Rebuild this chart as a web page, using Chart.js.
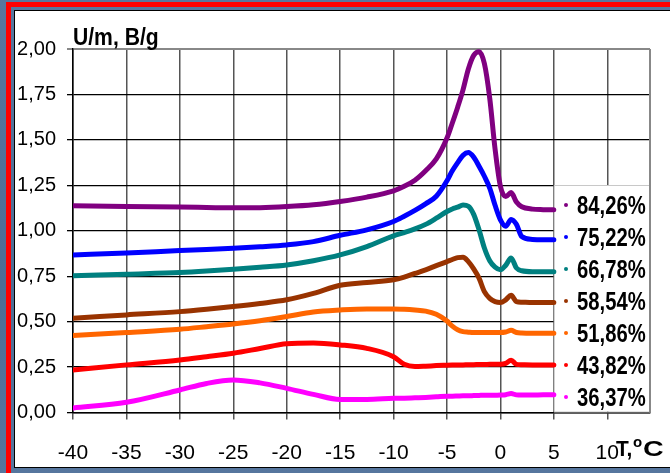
<!DOCTYPE html>
<html>
<head>
<meta charset="utf-8">
<script src="https://cdn.jsdelivr.net/npm/chart.js@4.4.0/dist/chart.umd.min.js"></script>
<style>
  html, body { margin: 0; padding: 0; }
  body {
    width: 670px; height: 473px; overflow: hidden; position: relative;
    background: linear-gradient(180deg, #57779f 0%, #4d6d95 60%, #56769e 100%);
  }
  #redLeft { position: absolute; left: 6px; top: 2px; width: 5px; height: 471px; background: #ff0000; }
  #redTop  { position: absolute; left: 6px; top: 2px; width: 664px; height: 5px; background: #ff0000; }
  #panel {
    position: absolute; left: 14px; top: 10px; width: 680px; height: 458px;
    background: #ffffff; border: 1px solid #000; box-sizing: border-box;
  }
  #c { position: absolute; left: 0; top: 0; }
</style>
</head>
<body>
<div id="redLeft"></div>
<div id="redTop"></div>
<div id="panel"></div>
<canvas id="c" width="670" height="473"></canvas>
<script>
// Temperature grid, °C
const temps = [-40, -35, -30, -27.5, -25, -22.5, -20, -17.5, -15, -12.5, -10, -9, -8, -7, -6, -5,
               -4.5, -4, -3.5, -3, -2.5, -2, -1.5, -1, -0.5, 0, 0.5, 1, 1.5, 2, 3, 4, 5];

// Specific conductance U/m, B/g at each temperature, one array per humidity
const rh8426 = [1.137, 1.133, 1.130, 1.128, 1.126, 1.127, 1.133, 1.143, 1.161, 1.185, 1.220, 1.245, 1.278, 1.330, 1.395, 1.510,
                1.593, 1.680, 1.775, 1.890, 1.965, 1.985, 1.920, 1.730, 1.450, 1.245, 1.188, 1.210, 1.158, 1.132, 1.119, 1.116, 1.115];
const rh7522 = [0.867, 0.877, 0.891, 0.897, 0.904, 0.912, 0.922, 0.940, 0.975, 1.005, 1.051, 1.080, 1.112, 1.148, 1.190, 1.275,
                1.330, 1.375, 1.415, 1.430, 1.405, 1.355, 1.300, 1.235, 1.140, 1.060, 1.025, 1.062, 1.035, 0.968, 0.952, 0.950, 0.950];
const rh6678 = [0.752, 0.761, 0.770, 0.778, 0.788, 0.799, 0.812, 0.835, 0.867, 0.913, 0.972, 0.990, 1.010, 1.035, 1.069, 1.106,
                1.120, 1.130, 1.142, 1.135, 1.090, 1.005, 0.905, 0.835, 0.800, 0.785, 0.810, 0.850, 0.795, 0.780, 0.775, 0.775, 0.775];
const rh5854 = [0.519, 0.537, 0.555, 0.568, 0.583, 0.600, 0.620, 0.655, 0.700, 0.715, 0.730, 0.745, 0.765, 0.785, 0.808, 0.830,
                0.842, 0.852, 0.854, 0.830, 0.790, 0.739, 0.665, 0.628, 0.610, 0.605, 0.620, 0.645, 0.610, 0.607, 0.605, 0.605, 0.605];
const rh5186 = [0.423, 0.440, 0.458, 0.472, 0.487, 0.505, 0.528, 0.553, 0.564, 0.570, 0.570, 0.568, 0.564, 0.558, 0.540, 0.503,
                0.475, 0.455, 0.445, 0.442, 0.440, 0.440, 0.440, 0.440, 0.440, 0.440, 0.443, 0.452, 0.440, 0.437, 0.436, 0.436, 0.436];
const rh4382 = [0.234, 0.262, 0.289, 0.307, 0.326, 0.352, 0.378, 0.382, 0.372, 0.353, 0.307, 0.265, 0.253, 0.255, 0.258, 0.260,
                0.261, 0.262, 0.262, 0.263, 0.263, 0.264, 0.264, 0.265, 0.265, 0.265, 0.270, 0.288, 0.265, 0.263, 0.262, 0.262, 0.262];
const rh3637 = [0.025, 0.056, 0.124, 0.160, 0.179, 0.163, 0.133, 0.100, 0.072, 0.072, 0.078, 0.079, 0.081, 0.083, 0.086, 0.090,
                0.090, 0.091, 0.092, 0.092, 0.093, 0.094, 0.095, 0.095, 0.095, 0.096, 0.098, 0.104, 0.097, 0.096, 0.096, 0.097, 0.097];

const seriesValues = [rh8426, rh7522, rh6678, rh5854, rh5186, rh4382, rh3637];
const seriesLabels = ['84,26%', '75,22%', '66,78%', '58,54%', '51,86%', '43,82%', '36,37%'];
const seriesColors = ['#800080', '#0000ff', '#008080', '#993300', '#ff6600', '#ff0000', '#ff00ff'];

const xTickValues = [-40, -35, -30, -25, -20, -15, -10, -5, 0, 5, 10];
const yTickValues = [0, 0.25, 0.5, 0.75, 1, 1.25, 1.5, 1.75, 2];

const yTitle = 'U/m, B/g';
const FONT = '"Liberation Sans", Arial, Helvetica, sans-serif';

// Draws text squeezed or widened horizontally
function drawNarrow(ctx, text, x, y, font, sx) {
  ctx.save();
  ctx.font = font;
  ctx.textBaseline = 'alphabetic';
  ctx.textAlign = 'left';
  ctx.translate(x, y);
  ctx.scale(sx, 1);
  ctx.fillText(text, 0, 0);
  ctx.restore();
}

const decor = {
  id: 'decor',
  beforeDatasetsDraw(chart) {
    const ctx = chart.ctx;
    const xs = chart.scales.x, ys = chart.scales.y;
    // legend box over the right part of the plot
    const left = xs.getPixelForValue(5);
    const right = chart.chartArea.right;
    const top = 185, bottom = ys.getPixelForValue(0) - 1;
    ctx.save();
    ctx.fillStyle = '#ffffff';
    ctx.fillRect(left, top, right - left, bottom - top);
    ctx.strokeStyle = '#c8c8c8';
    ctx.lineWidth = 1;
    ctx.strokeRect(left + 0.5, top + 0.5, right - left - 1, bottom - top);
    ctx.restore();
  },
  afterDraw(chart) {
    const ctx = chart.ctx;
    const a = chart.chartArea;
    ctx.save();
    // plot frame, right side
    ctx.strokeStyle = '#888888';
    ctx.lineWidth = 2;
    ctx.beginPath();
    ctx.moveTo(a.right, a.top);
    ctx.lineTo(a.right, a.bottom);
    ctx.stroke();

    // legend entries
    chart.data.datasets.forEach((ds, i) => {
      const cy = 205 + 32 * i;
      ctx.fillStyle = ds.borderColor;
      ctx.beginPath();
      ctx.arc(566, cy, 2, 0, Math.PI * 2);
      ctx.fill();
      ctx.fillStyle = '#000';
      drawNarrow(ctx, ds.label, 577, cy + 9, 'bold 25px ' + FONT, 0.81);
    });

    // axis titles
    ctx.fillStyle = '#000';
    drawNarrow(ctx, yTitle, 73, 45, 'bold 24px ' + FONT, 0.88);
    drawNarrow(ctx, 'T,', 616, 456, 'bold 22px ' + FONT, 0.95);
    drawNarrow(ctx, 'o', 633, 447, 'bold 15px ' + FONT, 1);
    drawNarrow(ctx, 'C', 643, 456, 'bold 22px ' + FONT, 1.3);
    ctx.restore();
  }
};

new Chart(document.getElementById('c'), {
  type: 'line',
  data: {
    datasets: seriesValues.map((vals, i) => ({
      label: seriesLabels[i],
      data: temps.map((t, j) => ({ x: t, y: vals[j] })),
      borderColor: seriesColors[i],
      backgroundColor: seriesColors[i],
      borderWidth: 5,
      borderCapStyle: 'round',
      borderJoinStyle: 'round',
      pointRadius: 0,
      cubicInterpolationMode: 'monotone',
      fill: false
    }))
  },
  options: {
    responsive: false,
    animation: false,
    devicePixelRatio: 1,
    layout: { padding: { top: 49, right: 20, left: 0, bottom: 0 } },
    plugins: { legend: { display: false }, tooltip: { enabled: false } },
    scales: {
      x: {
        type: 'linear',
        min: -40,
        max: 14,
        afterBuildTicks: s => { s.ticks = xTickValues.map(v => ({ value: v })); },
        afterFit: s => { s.height = 60.5; },
        grid: { color: '#555555', lineWidth: 1.5, tickLength: 7 },
        border: { color: '#000000', width: 1.5 },
        ticks: {
          color: '#000', padding: 21, maxRotation: 0, autoSkip: false,
          font: { family: FONT, size: 21 },
          callback: v => String(v)
        }
      },
      y: {
        min: 0,
        max: 2,
        afterBuildTicks: s => { s.ticks = yTickValues.map(v => ({ value: v })); },
        afterFit: s => { s.width = 73; },
        grid: {
          color: c => (c.tick && c.tick.value === 2) ? '#888888' : '#000000',
          lineWidth: c => (c.tick && c.tick.value === 2) ? 2 : 1.3,
          tickLength: 6
        },
        border: { color: '#000000', width: 1.5 },
        ticks: {
          color: '#000', padding: 11,
          font: { family: FONT, size: 20 },
          callback: v => Number(v).toFixed(2).replace('.', ',')
        }
      }
    }
  },
  plugins: [decor]
});
</script>
</body>
</html>
